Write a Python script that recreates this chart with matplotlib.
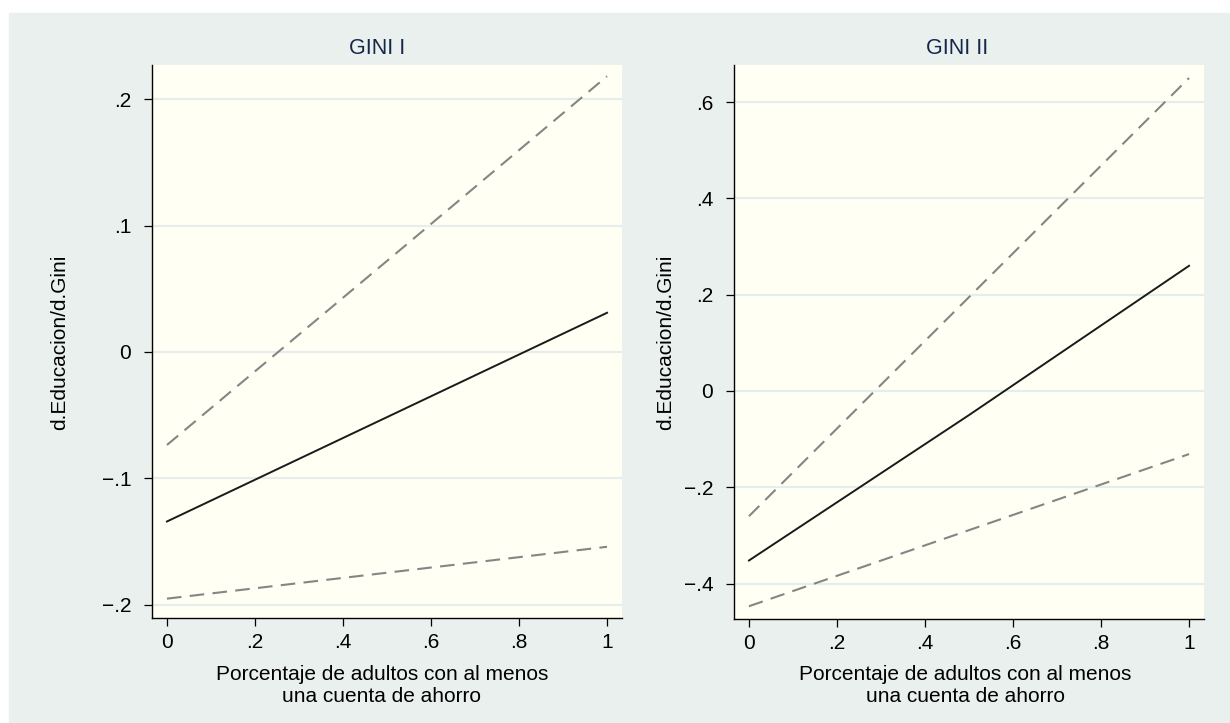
import numpy as np
import matplotlib.pyplot as plt
from matplotlib.patches import Rectangle

plt.rcParams["font.family"] = ["Liberation Sans", "DejaVu Sans"]

# valores (efecto marginal y bandas de confianza)
x_vals = [0.0, 0.5, 1.0]

g1_effect = [-0.134, -0.0515, 0.031]
g1_upper = [-0.0735, 0.072, 0.218]
g1_lower = [-0.195, -0.1745, -0.154]

g2_effect = [-0.352, -0.050, 0.260]
g2_upper = [-0.260, 0.195, 0.650]
g2_lower = [-0.447, -0.289, -0.131]

x_ticks = [0, 0.2, 0.4, 0.6, 0.8, 1]
x_ticklabels = ["0", ".2", ".4", ".6", ".8", "1"]

g1_yticks = [-0.2, -0.1, 0, 0.1, 0.2]
g1_yticklabels = ["\u2212.2", "\u2212.1", "0", ".1", ".2"]
g2_yticks = [-0.4, -0.2, 0, 0.2, 0.4, 0.6]
g2_yticklabels = ["\u2212.4", "\u2212.2", "0", ".2", ".4", ".6"]

TITLES = ["GINI I", "GINI II"]
XLABEL = "Porcentaje de adultos con al menos\nuna cuenta de ahorro"
YLABEL = "d.Educacion/d.Gini"

OUTER_BG = "#EAF0EE"
PLOT_BG = "#FFFFF4"
GRID_C = "#E6EDEA"
DASH_C = "#858585"
TITLE_C = "#16264A"

W, H = 1230, 723
FS = 15


def draw_panel(ax, effect, upper, lower, yticks, yticklabels, ylim,
               title, title_x, xlabel_x, ylabel_x):
    ax.set_facecolor(PLOT_BG)
    ax.plot(x_vals, upper, color=DASH_C, lw=1.5, dashes=(7, 4))
    ax.plot(x_vals, lower, color=DASH_C, lw=1.5, dashes=(7, 4))
    ax.plot(x_vals, effect, color="#1A1A1A", lw=1.4)

    ax.set_xlim(-0.034, 1.034)
    ax.set_ylim(*ylim)
    ax.set_xticks(x_ticks)
    ax.set_xticklabels(x_ticklabels)
    ax.set_yticks(yticks)
    ax.set_yticklabels(yticklabels)

    for y in yticks:
        ax.axhline(y, color=GRID_C, lw=1.5, zorder=0)

    for side in ["top", "right"]:
        ax.spines[side].set_visible(False)
    for side in ["left", "bottom"]:
        ax.spines[side].set_color("black")
        ax.spines[side].set_linewidth(1.0)

    ax.tick_params(direction="out", length=6, width=0.9, labelsize=FS,
                   colors="black")
    ax.tick_params(axis="x", pad=5)
    ax.tick_params(axis="y", pad=9)

    fig.text(xlabel_x / W, 1 - 685.5 / H, XLABEL, fontsize=FS, ha="center",
             va="center", linespacing=1.2)
    fig.text(ylabel_x / W, 1 - 342 / H, YLABEL, fontsize=FS, ha="center",
             va="center", rotation=90)
    fig.text(title_x / W, 1 - 48 / H, title, color=TITLE_C, fontsize=FS + 0.5,
             ha="center", va="center")


fig = plt.figure(figsize=(W / 100, H / 100), dpi=100, facecolor="white")
fig.patches.append(Rectangle((9 / W, 0), 1 - 9 / W, 1 - 13 / H,
                             transform=fig.transFigure, color=OUTER_BG,
                             zorder=-10))

ax1 = fig.add_axes([152 / W, 105 / H, 470 / W, 553 / H])
ax2 = fig.add_axes([734 / W, 104 / H, 470 / W, 554 / H])

draw_panel(ax1, g1_effect, g1_upper, g1_lower, g1_yticks, g1_yticklabels,
           (-0.2103, 0.2269), TITLES[0], 377, 382, 60)
draw_panel(ax2, g2_effect, g2_upper, g2_lower, g2_yticks, g2_yticklabels,
           (-0.4735, 0.677), TITLES[1], 957, 965, 666)

fig.savefig("out.png", dpi=100, facecolor=fig.get_facecolor())
